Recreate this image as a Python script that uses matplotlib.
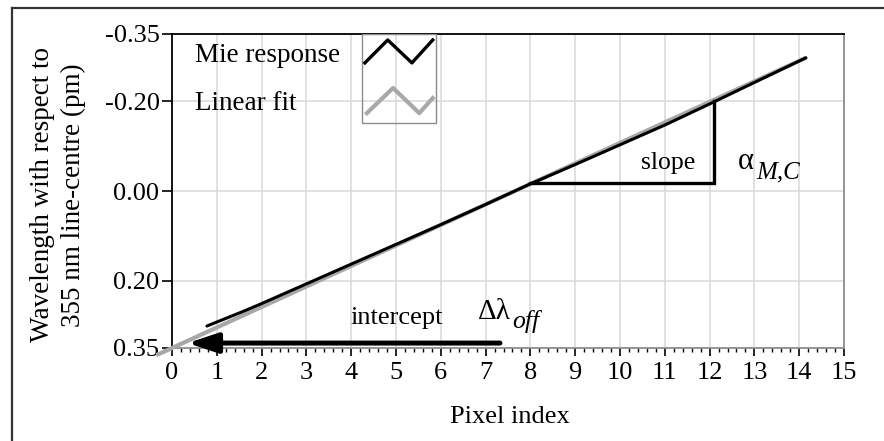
import matplotlib
matplotlib.use("Agg")
import matplotlib.pyplot as plt
from matplotlib.lines import Line2D
from matplotlib.patches import Rectangle
from matplotlib.ticker import MultipleLocator, FixedLocator, FixedFormatter

plt.rcParams['font.family'] = ['Liberation Serif', 'DejaVu Serif']

# ---- data ----
mie_x = [0.78, 1.6, 2, 3, 4, 5, 6, 7, 8, 9, 10, 11, 12, 13, 14.15]
mie_y = [0.301, 0.268, 0.251, 0.207, 0.163, 0.119, 0.075, 0.030, -0.016,
         -0.059, -0.103, -0.147, -0.194, -0.242, -0.297]
fit_x = [-0.35, 14.15]
fit_y = [0.366, -0.297]
slope_x = [8.0, 12.1, 12.1]
slope_y = [-0.017, -0.017, -0.200]
intercept_from = (7.32, 0.339)
intercept_to = (0.35, 0.339)
x_ticks = list(range(0, 16))
y_ticks = [-0.35, -0.20, 0.00, 0.20, 0.35]
y_labels = ['-0.35', '-0.20', '0.00', '0.20', '0.35']

W, H = 884, 441
fig = plt.figure(figsize=(W / 100, H / 100), dpi=100)
ax = fig.add_axes([172 / W, 1 - 348 / H, 672 / W, 314 / H])

FS = 19

# fit and data
ax.plot(fit_x, fit_y, color='#a8a8a8', lw=3.0, clip_on=False, solid_capstyle='butt', zorder=3)
ax.plot(mie_x, mie_y, color='black', lw=2.2, zorder=4, solid_capstyle='round')

# slope triangle
ax.plot(slope_x, slope_y, color='black', lw=2.4, zorder=4, solid_joinstyle='miter')

# intercept arrow
ax.annotate('', xy=intercept_to, xytext=intercept_from,
            arrowprops=dict(arrowstyle='-|>,head_length=0.9,head_width=0.3',
                            lw=3.6, color='black', mutation_scale=20,
                            shrinkA=0, shrinkB=0), zorder=5)

ax.set_xlim(0, 15)
ax.set_ylim(0.35, -0.35)

ax.xaxis.set_major_locator(FixedLocator(x_ticks))
ax.xaxis.set_minor_locator(MultipleLocator(0.2))
ax.yaxis.set_major_locator(FixedLocator(y_ticks))
ax.yaxis.set_major_formatter(FixedFormatter(y_labels))

ax.tick_params(axis='x', which='major', direction='out', length=6, width=1.2,
               pad=4, labelsize=FS, color='black')
ax.tick_params(axis='x', which='minor', direction='out', length=3.2, width=1.0,
               color='black')
ax.tick_params(axis='y', which='major', direction='out', length=7, width=1.2,
               pad=2, labelsize=FS, color='black')

# gridlines
for xv in x_ticks[1:-1]:
    ax.axvline(xv, color='#d8d8d8', lw=1.1, zorder=0)
for yv in y_ticks[1:-1]:
    ax.axhline(yv, color='#d8d8d8', lw=1.1, zorder=0)

ax.spines['top'].set_color('black')
ax.spines['left'].set_color('black')
ax.spines['right'].set_color('#8c8c8c')
ax.spines['bottom'].set_color('#8c8c8c')
for s in ax.spines.values():
    s.set_linewidth(1.3)

# annotation texts
ax.text(10.46, -0.050, 'slope', fontsize=18.5, va='baseline', ha='left')
ax.text(12.63, -0.050, '\u03b1', fontsize=22, va='baseline', ha='left')
ax.text(13.05, -0.028, 'M,C', fontsize=18, style='italic', va='baseline', ha='left')
ax.text(3.98, 0.296, 'intercept', fontsize=FS, va='baseline', ha='left')
ax.text(6.82, 0.285, '\u0394\u03bb', fontsize=21, va='baseline', ha='left')
ax.text(7.60, 0.305, 'off', fontsize=18.5, style='italic', va='baseline', ha='left')

# legend (manual, as in reference)
ax.text(0.034, 0.911, 'Mie response', transform=ax.transAxes, fontsize=19.5, va='baseline', ha='left')
ax.text(0.034, 0.758, 'Linear fit', transform=ax.transAxes, fontsize=19.5, va='baseline', ha='left')
ax.add_patch(Rectangle((0.283, 0.717), 0.110, 0.283, transform=ax.transAxes,
                       fill=False, edgecolor='#8c8c8c', lw=1.0, zorder=6))
ax.add_line(Line2D([0.287, 0.321, 0.357, 0.388], [0.908, 0.981, 0.908, 0.981],
                   transform=ax.transAxes, color='black', lw=2.4, zorder=7))
ax.add_line(Line2D([0.290, 0.329, 0.368, 0.388], [0.748, 0.828, 0.748, 0.796],
                   transform=ax.transAxes, color='#a8a8a8', lw=3.0, zorder=7))

# axis labels
fig.text(58 / W, 1 - 195 / H, 'Wavelength with respect to\n355 nm line-centre (pm)',
         rotation=90, ha='center', va='center', fontsize=19.5, linespacing=1.35,
         multialignment='center')
fig.text(510 / W, 1 - 423 / H, 'Pixel index', ha='center', va='baseline', fontsize=FS)

# figure border (top and left visible)
fig.add_artist(Line2D([12 / W, 12 / W], [0, 1 - 8 / H], color='#333333', lw=1.6))
fig.add_artist(Line2D([12 / W, 1], [1 - 8 / H, 1 - 8 / H], color='#333333', lw=1.6))

fig.savefig('out.png', dpi=100)
